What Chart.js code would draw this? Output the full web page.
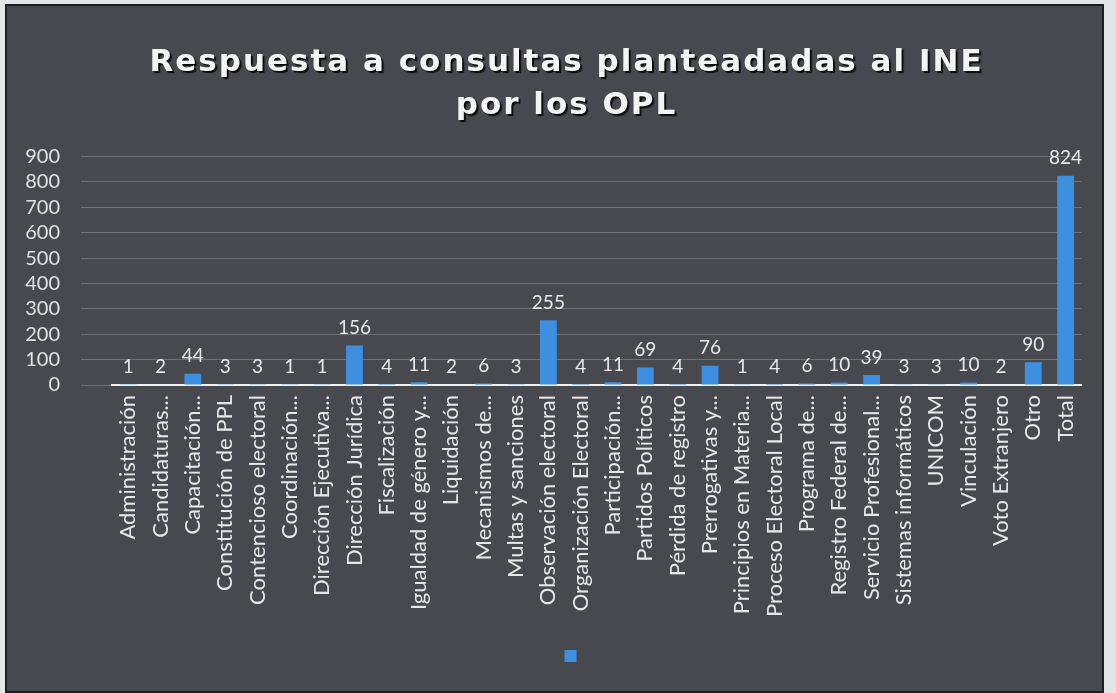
<!DOCTYPE html>
<html>
<head>
<meta charset="utf-8">
<script src="https://cdn.jsdelivr.net/npm/chart.js@4/dist/chart.umd.min.js"></script>
<style>
  html, body { margin: 0; padding: 0; background: #e4e5e6; }
  #frame {
    position: absolute; left: 5px; top: 4px;
    width: 1095px; height: 685px;
    border: 2px solid #1e1f22;
    background: #48494e;
  }
</style>
</head>
<body>
<div id="frame"><canvas id="chart" width="1095" height="685"></canvas></div>
<script>
// categories and counts
const categories = [
    "Administración", "Candidaturas...", "Capacitación...", "Constitución de PPL",
    "Contencioso electoral", "Coordinación...", "Dirección Ejecutiva...", "Dirección Jurídica",
    "Fiscalización", "Igualdad de género y...", "Liquidación", "Mecanismos de...",
    "Multas y sanciones", "Observación electoral", "Organización Electoral", "Participación...",
    "Partidos Políticos", "Pérdida de registro", "Prerrogativas y...", "Principios en Materia...",
    "Proceso Electoral Local", "Programa de...", "Registro Federal de...", "Servicio Profesional...",
    "Sistemas informáticos", "UNICOM", "Vinculación", "Voto Extranjero", "Otro", "Total"
];
const counts = [
    1, 2, 44, 3, 3, 1, 1, 156, 4, 11, 2, 6, 3, 255, 4, 11,
    69, 4, 76, 1, 4, 6, 10, 39, 3, 3, 10, 2, 90, 824
];
const titleLines = ["Respuesta a consultas planteadadas al INE", "por los OPL"];
const yMax = 900;
const yStep = 100;

// value labels above each bar
const valueLabels = {
    id: 'valueLabels',
    afterDatasetsDraw(chart) {
        const ctx = chart.ctx;
        const meta = chart.getDatasetMeta(0);
        ctx.save();
        ctx.font = '19px Lato';
        ctx.fillStyle = '#e8e8e8';
        ctx.textAlign = 'center';
        ctx.textBaseline = 'bottom';
        meta.data.forEach((bar, i) => {
            ctx.fillText(String(counts[i]), bar.x, bar.y - 8);
        });
        ctx.restore();
    }
};

// the original's title and legend sit a little right of centre
const nudgeBoxes = {
    id: 'nudgeBoxes',
    afterLayout(chart) {
        chart.titleBlock.left += 7;
        chart.titleBlock.right += 7;
        chart.legend.left += 14;
        chart.legend.right += 14;
    }
};

const ctx = document.getElementById('chart').getContext('2d');
const chart = new Chart(ctx, {
    type: 'bar',
    data: {
        labels: categories,
        datasets: [{
            label: '',
            data: counts,
            backgroundColor: '#3d8fe0',
            borderWidth: 0,
            barPercentage: 0.52,
            categoryPercentage: 1
        }]
    },
    options: {
        responsive: false,
        animation: false,
        layout: { padding: { left: 12, right: 2, top: 0, bottom: 19 } },
        plugins: {
            title: {
                display: true,
                text: titleLines,
                color: '#f4f4f4',
                font: { family: 'DejaVu Sans', size: 31, weight: 'bold', lineHeight: 1.38 },
                padding: { top: 36, bottom: 29 }
            },
            legend: {
                display: true,
                position: 'bottom',
                labels: { boxWidth: 12, boxHeight: 12, padding: 10, font: { size: 12 } }
            },
            tooltip: { enabled: false }
        },
        scales: {
            x: {
                grid: { display: false, drawTicks: false },
                border: { display: true, color: '#f0f0f0', width: 2 },
                ticks: {
                    color: '#e6e6e6',
                    font: { family: 'Lato', size: 22 },
                    minRotation: 90, maxRotation: 90,
                    autoSkip: false, padding: 10
                },
                afterFit(scale) { scale.height = 255; }
            },
            y: {
                min: 0, max: yMax,
                grid: { color: 'rgba(200,200,200,0.32)', lineWidth: 1, tickLength: 31 },
                border: { display: false },
                ticks: {
                    stepSize: yStep,
                    autoSkip: false,
                    color: '#e0e0e0',
                    font: { family: 'Lato', size: 20 },
                    padding: 21
                },
                afterFit(scale) { scale.width = 93; }
            }
        }
    },
    plugins: [valueLabels, nudgeBoxes]
});

// wider spacing and a dark shadow on the title, like the original
const tb = chart.titleBlock;
const drawTitle = tb.draw.bind(tb);
tb.draw = function () {
    const c = chart.ctx;
    c.save();
    c.letterSpacing = '2px';
    c.shadowColor = 'rgba(0,0,0,0.85)';
    c.shadowOffsetX = 2;
    c.shadowOffsetY = 2;
    c.shadowBlur = 1;
    drawTitle();
    c.restore();
};
chart.draw();
</script>
</body>
</html>
